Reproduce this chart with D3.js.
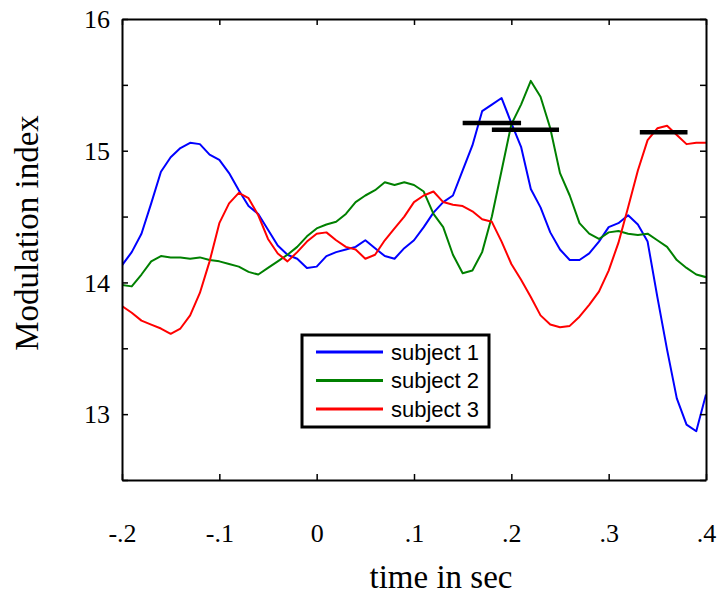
<!DOCTYPE html>
<html>
<head>
<meta charset="utf-8">
<script src="https://cdn.jsdelivr.net/npm/d3@7"></script>
<style>
  body { margin: 0; background: #fff; }
</style>
</head>
<body>
<div id="chart"></div>
<script>
// time samples, every 10 ms from -0.2 to 0.4
const times = d3.range(61).map((i) => Math.round((-0.2 + i * 0.01) * 100) / 100);

const subject1 = [
  14.13, 14.23, 14.37, 14.60, 14.84, 14.95, 15.02, 15.06, 15.05, 14.97,
  14.93, 14.83, 14.70, 14.58, 14.52, 14.40, 14.28, 14.21, 14.18, 14.11,
  14.12, 14.20, 14.23, 14.25, 14.27, 14.32, 14.26, 14.20, 14.18, 14.26,
  14.32, 14.42, 14.53, 14.61, 14.66, 14.85, 15.04, 15.30, 15.35, 15.40,
  15.21, 15.03, 14.71, 14.57, 14.38, 14.25, 14.17, 14.17, 14.22, 14.31,
  14.42, 14.45, 14.51, 14.44, 14.31, 13.89, 13.49, 13.12, 12.92, 12.87,
  13.15,
];
const subject2 = [
  13.98, 13.97, 14.06, 14.16, 14.20, 14.19, 14.19, 14.18, 14.19, 14.17,
  14.16, 14.14, 14.12, 14.08, 14.06, 14.11, 14.16, 14.21, 14.27, 14.35,
  14.41, 14.44, 14.46, 14.52, 14.61, 14.66, 14.70, 14.76, 14.74, 14.76,
  14.74, 14.69, 14.52, 14.42, 14.21, 14.07, 14.09, 14.23, 14.50, 14.85,
  15.20, 15.35, 15.53, 15.41, 15.17, 14.83, 14.66, 14.45, 14.37, 14.33,
  14.38, 14.39, 14.37, 14.36, 14.37, 14.32, 14.27, 14.17, 14.11, 14.06,
  14.04,
];
const subject3 = [
  13.82, 13.77, 13.71, 13.68, 13.65, 13.61, 13.65, 13.75, 13.92, 14.16,
  14.45, 14.60, 14.68, 14.64, 14.51, 14.33, 14.22, 14.16, 14.23, 14.31,
  14.37, 14.38, 14.32, 14.27, 14.25, 14.18, 14.21, 14.32, 14.41, 14.50,
  14.61, 14.66, 14.69, 14.61, 14.59, 14.58, 14.54, 14.48, 14.46, 14.31,
  14.14, 14.02, 13.89, 13.75, 13.68, 13.66, 13.67, 13.74, 13.83, 13.93,
  14.09, 14.30, 14.57, 14.85, 15.08, 15.17, 15.19, 15.12, 15.05, 15.06,
  15.06,
];

const seriesNames = ['subject 1', 'subject 2', 'subject 3'];
const seriesColors = ['#0000ff', '#008000', '#ff0000'];

// peak markers: [start, end, level]
const peakBars = [
  [0.150, 0.210, 15.21],
  [0.180, 0.249, 15.16],
  [0.332, 0.381, 15.14],
];

const xTicks = [-0.2, -0.1, 0, 0.1, 0.2, 0.3, 0.4];
const xTickLabels = ['-.2', '-.1', '0', '.1', '.2', '.3', '.4'];
const yTicks = [13, 14, 15, 16];
const yMinorTicks = [12.5, 13, 13.5, 14, 14.5, 15, 15.5, 16];

// Set up svg area
const width = 723;
const height = 594;
const margin = { top: 19, right: 17, bottom: 114, left: 122 };
const plotW = width - margin.left - margin.right;
const plotH = height - margin.top - margin.bottom;

const svg = d3
  .select('#chart')
  .append('svg')
  .attr('width', width)
  .attr('height', height)
  .append('g')
  .attr('transform', 'translate(' + margin.left + ',' + margin.top + ')');

const x = d3.scaleLinear().domain([-0.2, 0.4]).range([0, plotW]);
const y = d3.scaleLinear().domain([12.5, 16]).range([plotH, 0]);

const serif = '"Liberation Serif", "Times New Roman", serif';
const sans = '"Liberation Sans", Arial, sans-serif';

// Data lines, clipped to the box
svg
  .append('clipPath')
  .attr('id', 'clip')
  .append('rect')
  .attr('width', plotW)
  .attr('height', plotH);

const line = d3
  .line()
  .x((d, i) => x(times[i]))
  .y((d) => y(d));

[subject1, subject2, subject3].forEach((vals, k) => {
  svg
    .append('path')
    .datum(vals)
    .attr('clip-path', 'url(#clip)')
    .attr('fill', 'none')
    .attr('stroke', seriesColors[k])
    .attr('stroke-width', 2)
    .attr('stroke-linejoin', 'round')
    .attr('d', line);
});

// Peak bars
svg
  .selectAll('.peak')
  .data(peakBars)
  .enter()
  .append('line')
  .attr('class', 'peak')
  .attr('x1', (d) => x(d[0]))
  .attr('x2', (d) => x(d[1]))
  .attr('y1', (d) => y(d[2]))
  .attr('y2', (d) => y(d[2]))
  .attr('stroke', '#000')
  .attr('stroke-width', 4.5);

// Axes (ticks point inward, box on all sides)
const tickLen = 6;

const xAxis = d3.axisBottom(x).tickValues(xTicks).tickSizeInner(-tickLen).tickSizeOuter(0)
  .tickFormat((d, i) => xTickLabels[i]).tickPadding(44);
const gx = svg.append('g').attr('transform', 'translate(0,' + plotH + ')').call(xAxis);

const xTop = d3.axisTop(x).tickValues(xTicks).tickSizeInner(-tickLen).tickSizeOuter(0).tickFormat('');
const gxt = svg.append('g').call(xTop);

const yAxis = d3.axisLeft(y).tickValues(yMinorTicks).tickSizeInner(-tickLen).tickSizeOuter(0)
  .tickFormat((d) => (yTicks.includes(d) ? d3.format('d')(d) : '')).tickPadding(12);
const gy = svg.append('g').call(yAxis);

const yRight = d3.axisRight(y).tickValues(yMinorTicks).tickSizeInner(-tickLen).tickSizeOuter(0).tickFormat('');
const gyr = svg.append('g').attr('transform', 'translate(' + plotW + ',0)').call(yRight);

[gx, gxt, gy, gyr].forEach((g) => {
  g.select('.domain').attr('stroke', '#000').attr('stroke-width', 2);
  g.selectAll('.tick line').attr('stroke', '#000').attr('stroke-width', 1.5);
  g.selectAll('.tick text')
    .style('font-family', serif)
    .style('font-size', '26px')
    .attr('fill', '#000');
});
gy.selectAll('.tick text').attr('dy', '0.34em');

// Label x axis
svg
  .append('text')
  .attr('x', 441 - margin.left)
  .attr('y', 588 - margin.top)
  .attr('text-anchor', 'middle')
  .style('font-family', serif)
  .style('font-size', '33px')
  .text('time in sec');

// Label y axis
svg
  .append('text')
  .attr('x', -(233 - margin.top))
  .attr('y', 38 - margin.left)
  .attr('text-anchor', 'middle')
  .attr('transform', 'rotate(-90)')
  .style('font-family', serif)
  .style('font-size', '33px')
  .text('Modulation index');

// Legend
const legend = svg
  .append('g')
  .attr('transform', 'translate(' + (302 - margin.left) + ',' + (335 - margin.top) + ')');

legend
  .append('rect')
  .attr('width', 187)
  .attr('height', 92)
  .attr('fill', '#fff')
  .attr('stroke', '#000')
  .attr('stroke-width', 3);

seriesNames.forEach((name, k) => {
  const ly = 17 + k * 28.5;
  legend
    .append('line')
    .attr('x1', 14)
    .attr('x2', 81)
    .attr('y1', ly)
    .attr('y2', ly)
    .attr('stroke', seriesColors[k])
    .attr('stroke-width', 3);
  legend
    .append('text')
    .attr('x', 89)
    .attr('y', ly)
    .attr('dy', '0.35em')
    .style('font-family', sans)
    .style('font-size', '22px')
    .text(name);
});
</script>
</body>
</html>
